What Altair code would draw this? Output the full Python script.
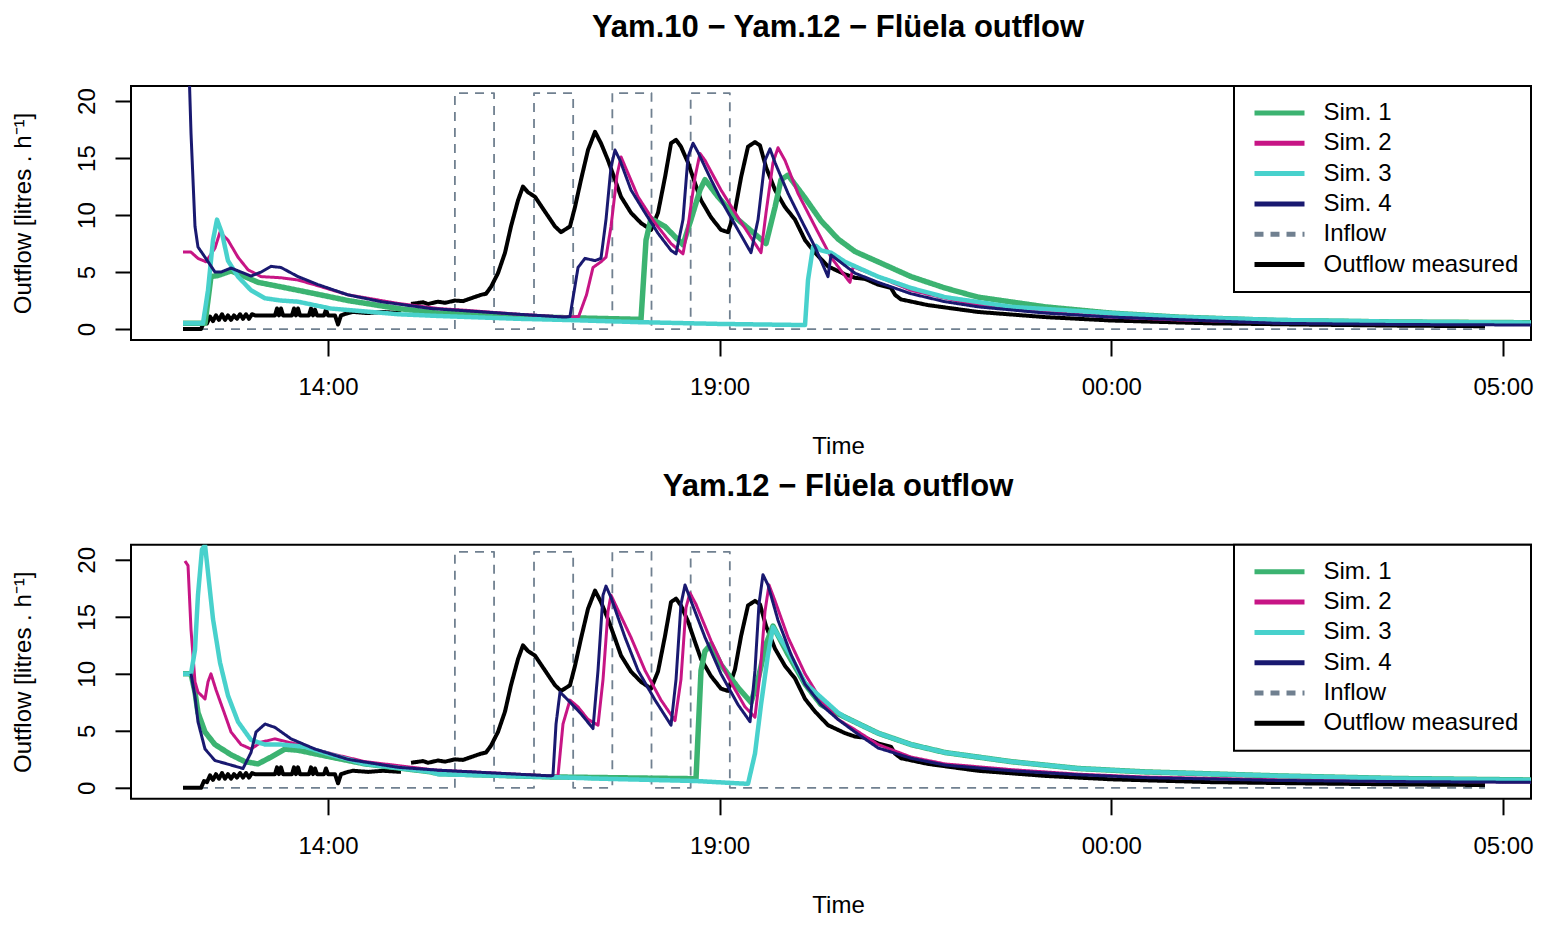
import altair as alt
import pandas as pd

FONT = "Liberation Sans"

SERIES = ["Sim. 1", "Sim. 2", "Sim. 3", "Sim. 4", "Inflow", "Outflow measured"]
COLORS = ["#3CB371", "#C71585", "#48D1CC", "#191970", "#708090", "#000000"]
DASHES = [[1, 0], [1, 0], [1, 0], [1, 0], [9, 7], [1, 0]]
WIDTHS = {"Sim. 1": 5.5, "Sim. 2": 3.0, "Sim. 3": 4.5, "Sim. 4": 3.0,
          "Inflow": 1.8, "Outflow measured": 4.0}
DRAW_ORDER = ["Inflow", "Outflow measured", "Sim. 1", "Sim. 2", "Sim. 3", "Sim. 4"]

TITLES = ["Yam.10 \u2212 Yam.12 \u2212 Fl\u00fcela outflow", "Yam.12 \u2212 Fl\u00fcela outflow"]
X_TITLE = "Time"
Y_TITLE = "Outflow [litres . h\u207b\u00b9]"
X_TICKS = [14, 19, 24, 29]          # hours since midnight of day 1
Y_TICKS = [0, 5, 10, 15, 20]
X_DOMAIN = [11.485, 29.358]
Y_DOMAINS = [[-0.96, 21.32], [-0.96, 21.32]]

# ---------- inflow (both panels) ----------
INFLOW_T = [12.149, 15.62, 15.62, 16.12, 16.12, 16.63, 16.63, 17.13, 17.13, 17.63,
            17.63, 18.13, 18.13, 18.63, 18.63, 19.13, 19.13, 28.77]
INFLOW_V = [0, 0, 20.7, 20.7, 0, 0, 20.7, 20.7, 0, 0, 20.7, 20.7, 0, 0, 20.7, 20.7, 0, 0]

# ---------- measured outflow (both panels), two segments ----------
MEAS_A_T = [12.149, 12.379, 12.417, 12.455, 12.494, 12.532, 12.570, 12.608, 12.647, 12.685,
            12.723, 12.762, 12.800, 12.838, 12.877, 12.915, 12.953, 12.991, 13.030, 13.068,
            13.323, 13.349, 13.374, 13.400, 13.426, 13.540, 13.566, 13.591, 13.617, 13.643,
            13.757, 13.783, 13.809, 13.834, 13.860, 13.949, 13.974, 14.000, 14.089, 14.128,
            14.166, 14.255, 14.319, 14.511, 14.702, 14.932]
MEAS_A_V = [0, 0, 0.6, 0.5, 1.1, 0.7, 1.2, 0.8, 1.3, 0.8,
            1.2, 0.8, 1.2, 0.9, 1.3, 0.9, 1.3, 0.9, 1.3, 1.2,
            1.2, 1.8, 1.2, 1.8, 1.2, 1.2, 1.8, 1.2, 1.8, 1.2,
            1.2, 1.8, 1.2, 1.7, 1.2, 1.2, 1.7, 1.2, 1.2, 0.4,
            1.2, 1.4, 1.5, 1.4, 1.5, 1.4]
MEAS_B_T = [15.060, 15.213, 15.277, 15.404, 15.494, 15.621, 15.723, 15.826, 15.953, 16.017,
            16.081, 16.170, 16.260, 16.336, 16.426, 16.489, 16.553, 16.643, 16.770, 16.898,
            16.975, 17.089, 17.153, 17.230, 17.319, 17.409, 17.485, 17.575, 17.664, 17.741,
            17.868, 17.996, 18.124, 18.213, 18.302, 18.379, 18.443, 18.506, 18.596, 18.685,
            18.762, 18.890, 19.017, 19.107, 19.196, 19.273, 19.362, 19.451, 19.515, 19.592,
            19.707, 19.834, 19.962, 20.090, 20.217, 20.383, 20.600, 20.728, 20.856, 21.022,
            21.188, 21.239, 21.315, 21.660, 22.298, 23.154, 23.996, 25.273, 26.383, 27.660,
            28.771]
MEAS_B_V = [2.2, 2.35, 2.2, 2.4, 2.3, 2.5, 2.45, 2.7, 3.0, 3.1,
            3.7, 4.9, 6.7, 9.0, 11.3, 12.5, 12.0, 11.6, 10.3, 9.0,
            8.5, 9.0, 10.7, 13.1, 15.7, 17.3, 16.3, 14.8, 13.1, 11.6,
            10.2, 9.3, 8.7, 10.2, 13.3, 16.3, 16.6, 16.0, 14.6, 12.8,
            11.3, 9.8, 8.7, 8.5, 10.4, 13.3, 16.0, 16.4, 16.1, 14.2,
            12.2, 10.7, 9.6, 7.8, 6.7, 5.5, 4.8, 4.5, 4.4, 3.9,
            3.6, 3.0, 2.6, 2.1, 1.5, 1.05, 0.75, 0.5, 0.4, 0.3,
            0.25]

# ---------- top panel simulations ----------
TOP_S1_T = [12.149, 12.430, 12.506, 12.596, 12.762, 12.940, 13.106, 13.400, 13.834, 14.255,
            14.894, 15.404, 16.426, 17.026, 17.996, 18.060, 18.124, 18.302, 18.430, 18.532,
            18.634, 18.749, 18.813, 18.979, 19.234, 19.490, 19.592, 19.707, 19.783, 19.873,
            20.090, 20.294, 20.511, 20.728, 21.022, 21.443, 21.877, 22.298, 23.154, 23.996,
            24.851, 26.128, 27.660, 29.511]
TOP_S1_V = [0.5, 0.5, 4.6, 4.7, 5.1, 4.6, 4.1, 3.7, 3.1, 2.5,
            1.8, 1.4, 1.1, 1.0, 0.85, 7.8, 9.7, 9.0, 8.1, 7.4,
            9.6, 12.2, 13.1, 11.6, 9.6, 8.1, 7.5, 10.7, 13.1, 13.5,
            11.5, 9.5, 7.9, 6.8, 5.9, 4.6, 3.6, 2.8, 1.95, 1.4,
            1.05, 0.75, 0.62, 0.55]
TOP_S2_T = [12.149, 12.251, 12.340, 12.442, 12.557, 12.621, 12.723, 12.851, 12.979, 13.145,
            13.400, 13.617, 13.872, 14.255, 14.894, 15.404, 15.749, 16.426, 17.026, 17.200,
            17.300, 17.383, 17.485, 17.549, 17.613, 17.690, 17.741, 17.958, 18.175, 18.379,
            18.532, 18.596, 18.685, 18.749, 18.813, 19.017, 19.234, 19.451, 19.528, 19.592,
            19.681, 19.745, 19.834, 20.000, 20.217, 20.422, 20.639, 20.664, 20.702, 20.728,
            21.022, 21.443, 21.877, 22.298, 23.154, 23.996, 24.851, 26.128, 27.660, 29.511]
TOP_S2_V = [6.75, 6.75, 6.2, 5.9, 7.1, 8.5, 7.8, 6.3, 5.2, 4.6,
            4.5, 4.3, 3.8, 3.0, 2.25, 1.8, 1.65, 1.3, 1.05, 1.1,
            3.0, 5.4, 5.9, 6.3, 9.0, 13.5, 15.1, 11.6, 9.3, 7.5,
            6.6, 9.0, 13.3, 15.4, 14.8, 12.2, 9.8, 7.5, 6.7, 10.2,
            14.6, 15.9, 14.8, 11.9, 9.0, 6.3, 4.3, 4.1, 5.4, 5.4,
            4.6, 3.4, 2.7, 2.1, 1.5, 1.05, 0.8, 0.55, 0.45, 0.4]
TOP_S3_T = [12.149, 12.404, 12.468, 12.532, 12.583, 12.647, 12.723, 12.851, 13.017, 13.196,
            13.400, 13.617, 14.038, 14.894, 15.404, 16.426, 17.026, 18.000, 19.000, 20.090,
            20.128, 20.192, 20.230, 20.294, 20.422, 20.600, 21.022, 21.443, 21.877, 22.720,
            23.996, 24.851, 26.128, 27.660, 29.511]
TOP_S3_V = [0.5, 0.5, 3.4, 7.8, 9.6, 8.4, 6.0, 4.6, 3.4, 2.7,
            2.5, 2.4, 1.8, 1.3, 1.15, 0.9, 0.8, 0.6, 0.45, 0.35,
            4.3, 7.2, 7.3, 6.9, 6.7, 5.9, 4.6, 3.6, 2.8, 1.95,
            1.4, 1.05, 0.8, 0.65, 0.55]
TOP_S4_T = [12.149, 12.251, 12.302, 12.340, 12.430, 12.557, 12.634, 12.762, 12.889, 13.017,
            13.145, 13.272, 13.400, 13.617, 13.872, 14.255, 14.677, 15.315, 16.426, 17.026,
            17.089, 17.192, 17.281, 17.409, 17.485, 17.549, 17.613, 17.664, 17.728, 17.868,
            18.047, 18.213, 18.379, 18.443, 18.532, 18.596, 18.660, 18.724, 18.890, 19.068,
            19.234, 19.400, 19.490, 19.579, 19.643, 19.707, 19.873, 20.039, 20.217, 20.383,
            20.422, 20.728, 21.022, 21.443, 21.877, 22.298, 23.154, 23.996, 26.128, 27.660,
            29.511]
TOP_S4_V = [40.0, 17.2, 9.0, 7.2, 6.3, 5.0, 5.0, 5.35, 5.0, 4.65,
            5.0, 5.5, 5.4, 4.6, 3.9, 3.0, 2.4, 1.8, 1.3, 1.05,
            1.1, 5.4, 6.2, 6.0, 6.2, 9.6, 14.2, 15.7, 14.8, 12.2,
            10.2, 8.4, 6.9, 6.6, 9.6, 15.1, 16.3, 15.5, 13.1, 10.7,
            8.7, 6.7, 9.6, 14.8, 15.8, 14.6, 11.9, 9.6, 7.2, 4.6,
            6.5, 4.9, 4.1, 3.1, 2.4, 1.95, 1.4, 1.05, 0.5, 0.4,
            0.35]

# ---------- bottom panel simulations ----------
BOT_S1_T = [12.149, 12.251, 12.302, 12.340, 12.430, 12.557, 12.762, 12.940, 13.106, 13.272,
            13.451, 13.617, 14.038, 14.472, 15.315, 15.404, 16.847, 18.698, 18.762, 18.813,
            18.890, 19.017, 19.234, 19.400, 19.490, 19.592, 19.681, 19.873, 20.090, 20.294,
            20.511, 20.600, 21.022, 21.443, 21.877, 22.720, 23.575, 24.430, 26.128, 27.660,
            29.511]
BOT_S1_V = [10.0, 10.0, 8.4, 6.6, 4.9, 3.8, 2.9, 2.3, 2.1, 2.7,
            3.4, 3.3, 2.7, 2.1, 1.4, 1.25, 0.96, 0.8, 10.3, 12.0,
            12.6, 10.8, 8.8, 7.5, 9.5, 12.6, 14.2, 11.7, 9.1, 7.3,
            6.5, 6.2, 4.8, 3.8, 3.1, 2.3, 1.7, 1.4, 1.05, 0.82,
            0.68]
BOT_S2_T = [12.174, 12.213, 12.251, 12.302, 12.340, 12.430, 12.468, 12.506, 12.570, 12.685,
            12.762, 12.889, 13.017, 13.145, 13.323, 13.617, 14.038, 14.472, 15.315, 15.404,
            16.847, 16.936, 17.000, 17.089, 17.192, 17.319, 17.447, 17.511, 17.575, 17.613,
            17.702, 17.868, 18.047, 18.251, 18.430, 18.506, 18.570, 18.621, 18.698, 18.890,
            19.107, 19.324, 19.451, 19.515, 19.579, 19.630, 19.707, 19.873, 20.090, 20.294,
            20.511, 20.728, 21.022, 21.443, 21.877, 22.720, 23.575, 24.430, 26.128, 27.660,
            29.511]
BOT_S2_V = [19.9, 19.5, 13.9, 9.3, 8.4, 7.8, 9.3, 10.0, 8.6, 6.4,
            4.9, 3.8, 3.4, 4.0, 4.3, 3.8, 3.0, 2.3, 1.6, 1.55,
            1.05, 1.05, 5.6, 7.7, 7.1, 6.0, 5.5, 9.5, 15.5, 16.9,
            15.6, 13.2, 10.3, 7.7, 5.9, 9.5, 15.8, 17.1, 16.1, 12.9,
            9.7, 7.1, 6.2, 10.0, 15.5, 17.8, 16.4, 13.2, 10.0, 7.7,
            6.0, 5.1, 3.8, 2.7, 2.1, 1.6, 1.2, 0.95, 0.7, 0.58,
            0.5]
BOT_S3_T = [12.149, 12.251, 12.302, 12.340, 12.391, 12.430, 12.468, 12.532, 12.621, 12.723,
            12.851, 13.017, 13.196, 13.400, 13.706, 14.038, 14.472, 15.315, 15.404, 16.847,
            17.500, 18.700, 19.362, 19.451, 19.528, 19.617, 19.681, 19.873, 20.090, 20.511,
            20.600, 21.022, 21.443, 21.877, 22.720, 23.575, 24.430, 26.128, 27.660, 29.511]
BOT_S3_V = [10.0, 10.0, 12.1, 16.9, 20.9, 21.3, 18.9, 14.8, 11.0, 8.1,
            5.8, 4.2, 3.8, 3.8, 3.6, 2.9, 2.1, 1.4, 1.2, 0.95,
            0.8, 0.6, 0.35, 3.0, 7.3, 11.7, 14.1, 12.0, 9.2, 6.6,
            6.2, 4.8, 3.8, 3.1, 2.3, 1.7, 1.4, 1.05, 0.82, 0.68]
BOT_S4_T = [12.251, 12.302, 12.340, 12.430, 12.557, 12.762, 12.915, 13.017,
            13.081, 13.196, 13.323, 13.528, 13.834, 14.255, 14.894, 15.404, 16.847, 16.872,
            16.911, 16.962, 17.064, 17.230, 17.383, 17.447, 17.511, 17.549, 17.613, 17.792,
            17.958, 18.175, 18.379, 18.443, 18.506, 18.558, 18.634, 18.813, 19.017, 19.234,
            19.388, 19.451, 19.502, 19.553, 19.617, 19.745, 19.911, 20.090, 20.294, 20.511,
            20.728, 21.022, 21.443, 21.877, 22.720, 23.575, 24.430, 26.128, 27.660, 29.511]
BOT_S4_V = [10.0, 8.0, 5.8, 3.4, 2.4, 2.0, 1.7, 3.1,
            4.9, 5.6, 5.3, 4.3, 3.4, 2.5, 1.8, 1.55, 1.05, 1.1,
            5.6, 8.4, 7.7, 6.5, 5.2, 10.3, 16.9, 17.7, 16.7, 13.2,
            10.3, 7.7, 5.5, 9.5, 16.1, 17.8, 16.4, 13.2, 10.0, 7.3,
            5.8, 10.3, 16.1, 18.7, 17.8, 14.7, 11.7, 9.1, 7.3, 6.0,
            4.9, 3.5, 2.6, 2.0, 1.5, 1.15, 0.9, 0.65, 0.55, 0.48]

PANEL_SIMS = [
    {"Sim. 1": (TOP_S1_T, TOP_S1_V), "Sim. 2": (TOP_S2_T, TOP_S2_V),
     "Sim. 3": (TOP_S3_T, TOP_S3_V), "Sim. 4": (TOP_S4_T, TOP_S4_V)},
    {"Sim. 1": (BOT_S1_T, BOT_S1_V), "Sim. 2": (BOT_S2_T, BOT_S2_V),
     "Sim. 3": (BOT_S3_T, BOT_S3_V), "Sim. 4": (BOT_S4_T, BOT_S4_V)},
]

PLOT_W = 1400
PLOT_H = 254


def build_frame(sims):
    rows = []

    def add(series, ts, vs, seg=0):
        for i, (t, v) in enumerate(zip(ts, vs)):
            rows.append({"series": series, "t": t, "v": v, "i": i, "seg": seg})

    add("Inflow", INFLOW_T, INFLOW_V)
    add("Outflow measured", MEAS_A_T, MEAS_A_V, 0)
    add("Outflow measured", MEAS_B_T, MEAS_B_V, 1)
    for name, (ts, vs) in sims.items():
        add(name, ts, vs)
    return pd.DataFrame(rows)


def panel(title, sims, ydom):
    df = build_frame(sims)
    legend = alt.Legend(
        orient="none", legendX=1103, legendY=0, title=None,
        symbolType="stroke", symbolSize=2500, symbolStrokeWidth=5,
        clipHeight=30, rowPadding=0.3, padding=12, symbolOffset=6,
        labelOffset=16.5, labelFontSize=24, labelFont=FONT, labelColor="black",
        strokeColor="black", fillColor="white", labelLimit=400,
    )
    xaxis = alt.Axis(
        values=X_TICKS, title=X_TITLE, grid=False, domain=False,
        tickSize=16, tickWidth=2, tickColor="black",
        labelExpr="(datum.value % 24 < 10 ? '0' : '') + (datum.value % 24) + ':00'",
        labelFontSize=24, labelPadding=19.2, labelFlush=False, labelColor="black",
        labelFont=FONT, titleFont=FONT, titleFontSize=24, titleFontWeight="normal",
        titlePadding=35.5, titleColor="black", titleX=707,
    )
    yaxis = alt.Axis(
        values=Y_TICKS, title=Y_TITLE, grid=False, domain=False,
        tickSize=16, tickWidth=2, tickColor="black",
        labelAngle=270, labelAlign="center", labelBaseline="alphabetic",
        labelPadding=21, labelFontSize=24, labelColor="black", labelFont=FONT,
        labelFlush=False,
        titleFont=FONT, titleFontSize=24, titleFontWeight="normal", titleColor="black",
        titleAngle=270, titleAlign="center", titleBaseline="alphabetic",
        titleX=-101, titleY=127,
    )
    cscale = alt.Scale(domain=SERIES, range=COLORS)
    dscale = alt.Scale(domain=SERIES, range=DASHES)
    base = alt.Chart(df)
    layers = []
    for s in DRAW_ORDER:
        layers.append(
            base.transform_filter(alt.datum.series == s)
            .mark_line(clip=True, strokeWidth=WIDTHS[s], strokeJoin="round")
            .encode(
                x=alt.X("t:Q", scale=alt.Scale(domain=X_DOMAIN, nice=False, zero=False), axis=xaxis),
                y=alt.Y("v:Q", scale=alt.Scale(domain=ydom, nice=False, zero=False), axis=yaxis),
                color=alt.Color("series:N", scale=cscale, legend=legend),
                strokeDash=alt.StrokeDash("series:N", scale=dscale, legend=legend),
                order=alt.Order("i:Q"),
                detail=alt.Detail("seg:N"),
            )
        )
    return alt.layer(*layers).properties(
        width=PLOT_W, height=PLOT_H,
        title=alt.Title(title, fontSize=31, fontWeight="bold", font=FONT,
                        anchor="middle", offset=40.8, color="black", dx=7),
    )


top = panel(TITLES[0], PANEL_SIMS[0], Y_DOMAINS[0])
bottom = panel(TITLES[1], PANEL_SIMS[1], Y_DOMAINS[1])

chart = (
    alt.vconcat(top, bottom, spacing=9.8)
    .resolve_scale(color="independent", strokeDash="independent")
    .resolve_legend(color="independent", strokeDash="independent")
    .properties(padding={"left": 2, "top": 3, "right": 0, "bottom": 0})
    .configure(font=FONT)
    .configure_view(stroke="black", strokeWidth=2)
    .configure_legend(strokeWidth=2)
)

chart.save("out.html", embed_options={"renderer": "svg", "actions": False})
